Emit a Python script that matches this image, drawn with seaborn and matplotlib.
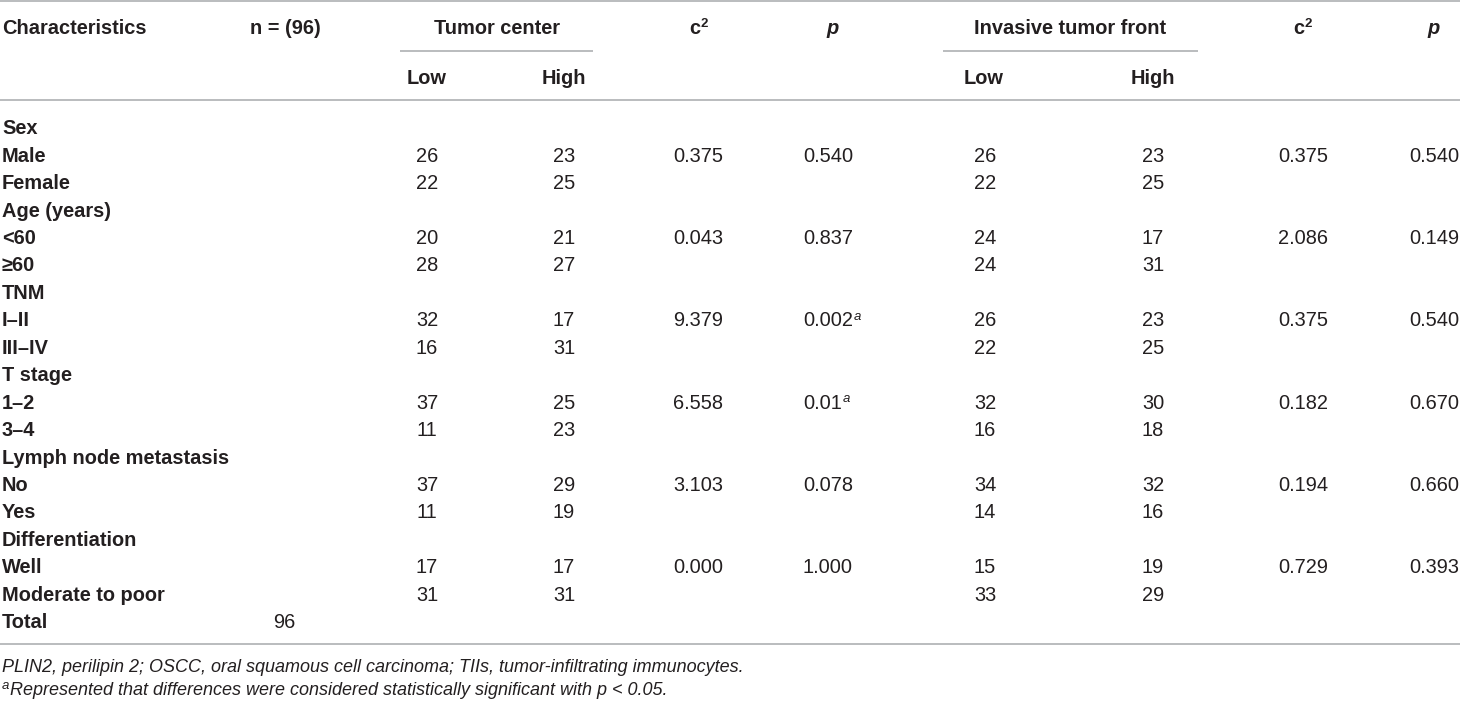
import matplotlib

matplotlib.use("Agg")
import matplotlib.pyplot as plt
import seaborn as sns

# table content
characteristics = [
    "Sex", "Male", "Female",
    "Age (years)", "<60", "≥60",
    "TNM", "I–II", "III–IV",
    "T stage", "1–2", "3–4",
    "Lymph node metastasis", "No", "Yes",
    "Differentiation", "Well", "Moderate to poor",
    "Total",
]
n_total = [""] * 18 + ["96"]

tc_low = ["", "26", "22", "", "20", "28", "", "32", "16", "", "37", "11", "", "37", "11", "", "17", "31", ""]
tc_high = ["", "23", "25", "", "21", "27", "", "17", "31", "", "25", "23", "", "29", "19", "", "17", "31", ""]
tc_chi2 = ["", "0.375", "", "", "0.043", "", "", "9.379", "", "", "6.558", "", "", "3.103", "", "", "0.000", "", ""]
tc_p = ["", "0.540", "", "", "0.837", "", "", "0.002", "", "", "0.01", "", "", "0.078", "", "", "1.000", "", ""]
tc_sig = [False] * 19
tc_sig[7] = True
tc_sig[10] = True

itf_low = ["", "26", "22", "", "24", "24", "", "26", "22", "", "32", "16", "", "34", "14", "", "15", "33", ""]
itf_high = ["", "23", "25", "", "17", "31", "", "23", "25", "", "30", "18", "", "32", "16", "", "19", "29", ""]
itf_chi2 = ["", "0.375", "", "", "2.086", "", "", "0.375", "", "", "0.182", "", "", "0.194", "", "", "0.729", "", ""]
itf_p = ["", "0.540", "", "", "0.149", "", "", "0.540", "", "", "0.670", "", "", "0.660", "", "", "0.393", "", ""]

footnote_abbrev = "PLIN2, perilipin 2; OSCC, oral squamous cell carcinoma; TIIs, tumor-infiltrating immunocytes."
footnote_sig = "Represented that differences were considered statistically significant with p < 0.05."

sns.set_theme(style="white")
plt.rcParams["font.family"] = ["Liberation Sans", "DejaVu Sans"]

INK = "#231f20"
RULE = "#a7a9ac"
FS = 14.4
FS_NOTE = 13.0
FS_SUP = 9.5
CAP = 7.2  # half cap height in px, centre -> baseline

fig = plt.figure(figsize=(14.6, 7.01), dpi=100)
ax = fig.add_axes([0, 0, 1, 1])
ax.set_xlim(0, 1460)
ax.set_ylim(701, 0)
ax.axis("off")
sns.despine(ax=ax, left=True, bottom=True)
renderer = fig.canvas.get_renderer()


def put(x, y, s, ha="center", weight="normal", style="normal", size=FS, base=None):
    yb = y + CAP if base is None else base
    return ax.text(x, yb, s, ha=ha, va="baseline", fontsize=size,
                   fontweight=weight, fontstyle=style, color=INK)


def sup(txt, s, rise=6.5, gap=1.0, weight="normal", style="normal"):
    # superscript placed right after an existing text, measured in pixels
    bb = txt.get_window_extent(renderer)
    x_end = ax.transData.inverted().transform((bb.x1, bb.y0))[0]
    yb = txt.get_position()[1] - rise
    return ax.text(x_end + gap, yb, s, ha="left", va="baseline", fontsize=FS_SUP,
                   fontweight=weight, fontstyle=style, color=INK)


# rules
ax.hlines([0.7, 100, 644], 0, 1460, color=RULE, linewidth=1.1)
ax.hlines([51, 51], [400, 943], [593, 1198], color=RULE, linewidth=1.1)

# header
put(2, 27, "Characteristics", ha="left", weight="bold")
put(250, 27, "n = (96)", ha="left", weight="bold")
put(497, 27, "Tumor center", weight="bold")
put(1070, 27, "Invasive tumor front", weight="bold")
for lx in (689, 1293):
    t = put(lx, 27, "c", ha="left", weight="bold")
    sup(t, "2", rise=7.5, gap=0.5, weight="bold")
put(833, 27, "p", weight="bold", style="italic")
put(1434, 27, "p", weight="bold", style="italic")
for cx, lab in [(427, "Low"), (564, "High"), (984, "Low"), (1153, "High")]:
    put(cx, 77, lab, weight="bold")

# body
row_y0 = 127
row_step = 27.45
columns = [
    (284, n_total),
    (427, tc_low), (564, tc_high), (698, tc_chi2),
    (985, itf_low), (1153, itf_high), (1303, itf_chi2),
]
for i, label in enumerate(characteristics):
    y = row_y0 + i * row_step
    put(2, y, label, ha="left", weight="bold")
    for cx, values in columns:
        if values[i]:
            put(cx, y, values[i])
    if tc_p[i]:
        t = put(803, y, tc_p[i], ha="left")
        if tc_sig[i]:
            sup(t, "a", style="italic")
    if itf_p[i]:
        put(1409, y, itf_p[i], ha="left")

# footnotes
put(2, 0, footnote_abbrev, ha="left", style="italic", size=FS_NOTE, base=672)
a = put(2, 0, "a", ha="left", style="italic", size=FS_SUP, base=689)
t = sup(a, "", rise=0)
bb = a.get_window_extent(renderer)
x_end = ax.transData.inverted().transform((bb.x1, bb.y0))[0]
put(x_end + 0.5, 0, footnote_sig, ha="left", style="italic", size=FS_NOTE, base=695)

fig.savefig("out.png", dpi=100)
plt.close(fig)
